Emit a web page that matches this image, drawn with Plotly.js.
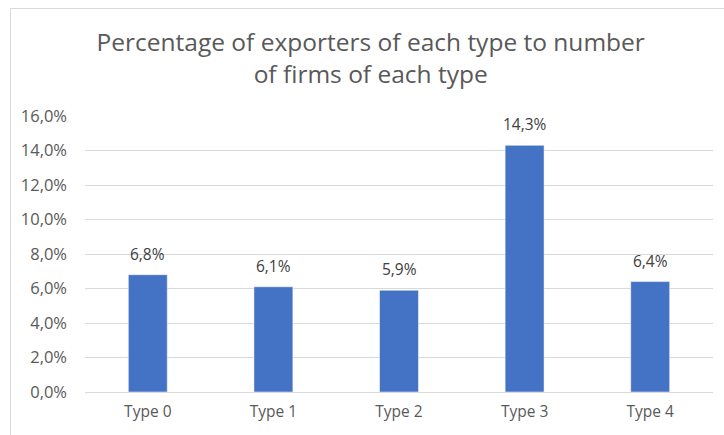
<!DOCTYPE html>
<html>
<head>
<meta charset="utf-8">
<script src="https://cdn.plot.ly/plotly-3.0.1.min.js"></script>
<style>
html,body{margin:0;padding:0;background:#fff;}
#wrap{position:relative;width:724px;height:435px;overflow:hidden;}
#frame{position:absolute;left:10px;top:8px;width:730px;height:440px;border:1px solid #d9d9d9;box-sizing:border-box;pointer-events:none;}
#chart{position:absolute;left:0;top:0;width:724px;height:435px;}
</style>
</head>
<body>
<div id="wrap">
<div id="chart"></div>
<div id="frame"></div>
</div>
<script>
const categories = ["Type 0", "Type 1", "Type 2", "Type 3", "Type 4"];
const shares = [0.068, 0.061, 0.059, 0.143, 0.064];
const yTicks = [0, 0.02, 0.04, 0.06, 0.08, 0.10, 0.12, 0.14, 0.16];
const titleText = "Percentage of exporters of each type to number<br>of firms of each type";

const font = "Open Sans, Noto Sans, sans-serif";

const labelAnnotations = categories.map((c, i) => ({
  x: c, y: shares[i], xref: "x", yref: "y",
  text: (shares[i] * 100).toFixed(1).replace(".", ",") + "%",
  showarrow: false, yanchor: "bottom", yshift: 8,
  font: {family: font, size: 15.5, color: "#404040"}
}));

Plotly.newPlot("chart", [{
  type: "bar",
  x: categories,
  y: shares,
  marker: {color: "#4472C4", line: {color: "#ffffff", width: 0.5}},
  width: 0.31,
  hoverinfo: "skip"
}], {
  width: 724,
  height: 435,
  separators: ",.",
  paper_bgcolor: "#ffffff",
  plot_bgcolor: "#ffffff",
  margin: {l: 85, r: 11, t: 116, b: 43},
  showlegend: false,
  title: {
    text: titleText,
    font: {family: font, size: 24.5, color: "#595959"},
    x: 0.512, xanchor: "center",
    xref: "container", yref: "container",
    y: 0.883, yanchor: "middle"
  },
  annotations: labelAnnotations,
  xaxis: {
    type: "category",
    showgrid: false,
    showline: false,
    ticks: "",
    tickfont: {family: font, size: 15.5, color: "#595959"},
    ticklabelstandoff: 8
  },
  yaxis: {
    range: [0, 0.16],
    tickvals: yTicks,
    tickformat: ".1%",
    showgrid: true,
    gridcolor: "#d9d9d9",
    gridwidth: 1,
    zeroline: true,
    zerolinecolor: "#d9d9d9",
    zerolinewidth: 1,
    showline: false,
    ticks: "",
    ticklabelstandoff: 17,
    tickfont: {family: font, size: 16.5, color: "#595959"}
  }
}, {staticPlot: true});
</script>
</body>
</html>
